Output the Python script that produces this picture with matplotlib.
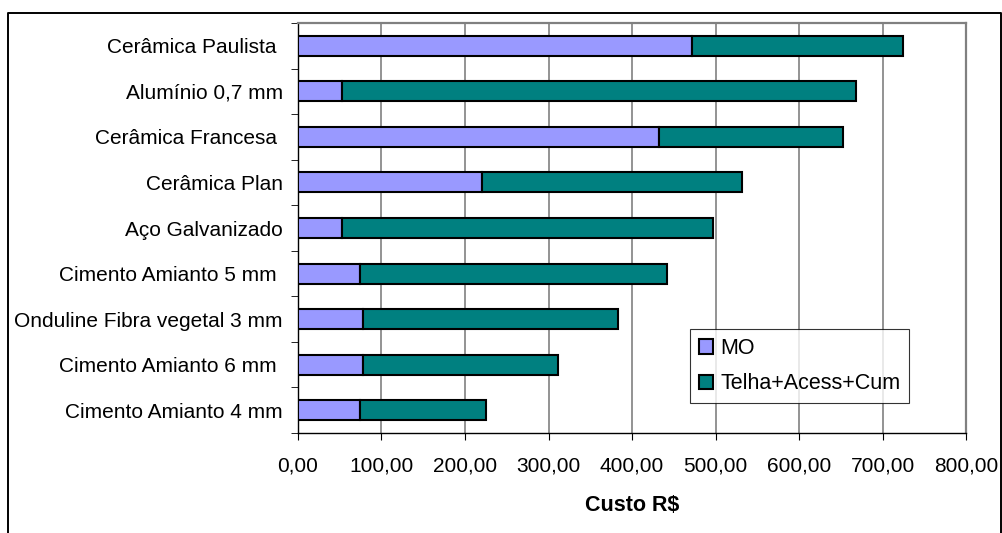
import matplotlib
matplotlib.use("Agg")
import matplotlib.pyplot as plt
import numpy as np
from matplotlib.ticker import FuncFormatter

plt.rcParams['font.family'] = ['Liberation Sans', 'DejaVu Sans']

# tipos de telhado, de baixo para cima
telhas = ['Cimento Amianto 4 mm', 'Cimento Amianto 6 mm ', 'Onduline Fibra vegetal 3 mm',
          'Cimento Amianto 5 mm ', 'Aço Galvanizado', 'Cerâmica Plan', 'Cerâmica Francesa ',
          'Alumínio 0,7 mm', 'Cerâmica Paulista ']
mo = [74.2, 78.3, 78.3, 74.2, 52.9, 220.0, 432.7, 52.9, 471.6]
telha_acess = [151.0, 232.5, 304.6, 368.3, 444.6, 311.8, 220.5, 614.8, 253.2]

W, H = 1003, 533
fig = plt.figure(figsize=(W / 100, H / 100), dpi=100)

# moldura externa (sem a linha de baixo)
fig.add_artist(plt.Line2D([8 / W, 8 / W, 1001 / W, 1001 / W], [0, 1 - 13 / H, 1 - 13 / H, 0],
                          transform=fig.transFigure, color='black', lw=1.4))

ax = fig.add_axes([298 / W, (H - 433) / H, (966 - 298) / W, (433 - 23) / H])
y = np.arange(len(telhas))
ax.barh(y, mo, height=0.44, color='#9999FF', edgecolor='black', lw=1.5, label='MO', zorder=3)
ax.barh(y, telha_acess, left=mo, height=0.44, color='#008080', edgecolor='black', lw=1.5,
        label='Telha+Acess+Cum', zorder=3)

ax.set_xlim(0, 800)
ax.set_ylim(-0.5, len(telhas) - 0.5)
ax.set_xticks(np.arange(0, 801, 100))
ax.xaxis.set_major_formatter(FuncFormatter(lambda v, p: f'{v:.2f}'.replace('.', ',')))
ax.set_yticks(y)
ax.set_yticklabels(telhas)
ax.set_yticks(np.arange(-0.5, len(telhas)), minor=True)
ax.tick_params(axis='y', which='major', length=0, pad=11, labelsize=15)
ax.tick_params(axis='y', which='minor', length=5, direction='out', color='black')
ax.tick_params(axis='x', length=5, direction='out', pad=12, labelsize=15)

ax.grid(axis='x', color='#808080', lw=1.2, zorder=0)
for s in ['top', 'right']:
    ax.spines[s].set_color('#808080')
    ax.spines[s].set_linewidth(1.6)
for s in ['left', 'bottom']:
    ax.spines[s].set_color('black')
    ax.spines[s].set_linewidth(1.0)

ax.set_xlabel('Custo R$', fontsize=15.5, fontweight='bold', labelpad=14)

leg = ax.legend(loc='lower left', bbox_to_anchor=((690 - 298) / 668, (433 - 403) / 410),
                fontsize=15.5, frameon=True, fancybox=False, edgecolor='black',
                handlelength=0.65, handleheight=0.65, handletextpad=0.37, labelspacing=0.67,
                borderpad=0.4, borderaxespad=0)
leg.get_frame().set_linewidth(0.8)

fig.savefig('out.png', dpi=100)
